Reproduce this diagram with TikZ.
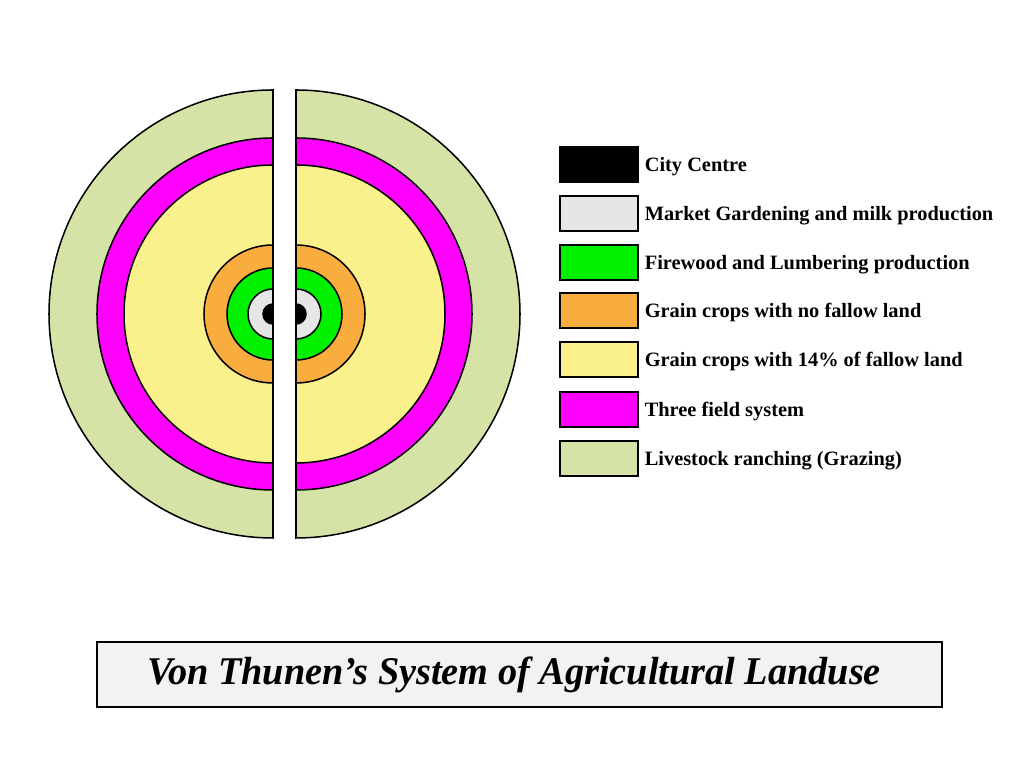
\documentclass[tikz,border=0pt]{standalone}
\usepackage{fontspec}
\setmainfont{Liberation Serif}
\usetikzlibrary{positioning}
\definecolor{ranch}{RGB}{214,227,166}
\definecolor{threefield}{RGB}{255,0,255}
\definecolor{fallow}{RGB}{250,240,140}
\definecolor{nofallow}{RGB}{248,173,62}
\definecolor{firewood}{RGB}{0,240,0}
\definecolor{market}{RGB}{230,230,230}
\definecolor{titlefill}{RGB}{242,242,242}

\begin{document}
\begin{tikzpicture}[x=0.03cm,y=0.03cm]
\tikzset{zone/.style={draw=black,line width=1.3pt},
  key/.style={draw=black,line width=1.2pt,minimum width=2.34cm,minimum height=1.05cm,inner sep=0pt},
  keytext/.style={right=5pt of #1,yshift=-1.8pt,inner sep=0pt,font=\bfseries\fontsize{17.4}{20}\selectfont}}
\useasboundingbox (0,0) rectangle (1024,768);
% left half
\draw[zone,fill=ranch] (273,230) arc[start angle=-90,end angle=-270,radius=224] -- cycle;
\draw[zone,fill=threefield] (273,278) arc[start angle=-90,end angle=-270,radius=176] -- cycle;
\draw[zone,fill=fallow] (273,305) arc[start angle=-90,end angle=-270,radius=149] -- cycle;
\draw[zone,fill=nofallow] (273,385) arc[start angle=-90,end angle=-270,radius=69] -- cycle;
\draw[zone,fill=firewood] (273,408) arc[start angle=-90,end angle=-270,radius=46] -- cycle;
\draw[zone,fill=market] (273,429) arc[start angle=-90,end angle=-270,radius=25] -- cycle;
\draw[zone,fill=black] (273,444) arc[start angle=-90,end angle=-270,radius=10] -- cycle;
% right half
\draw[zone,fill=ranch] (296,230) arc[start angle=-90,end angle=90,radius=224] -- cycle;
\draw[zone,fill=threefield] (296,278) arc[start angle=-90,end angle=90,radius=176] -- cycle;
\draw[zone,fill=fallow] (296,305) arc[start angle=-90,end angle=90,radius=149] -- cycle;
\draw[zone,fill=nofallow] (296,385) arc[start angle=-90,end angle=90,radius=69] -- cycle;
\draw[zone,fill=firewood] (296,408) arc[start angle=-90,end angle=90,radius=46] -- cycle;
\draw[zone,fill=market] (296,429) arc[start angle=-90,end angle=90,radius=25] -- cycle;
\draw[zone,fill=black] (296,444) arc[start angle=-90,end angle=90,radius=10] -- cycle;
% legend
\node[key,fill=black] (k1) at (599,603.5) {};
\node[key,fill=market] (k2) at (599,554.5) {};
\node[key,fill=firewood] (k3) at (599,505.5) {};
\node[key,fill=nofallow] (k4) at (599,457.5) {};
\node[key,fill=fallow] (k5) at (599,408.5) {};
\node[key,fill=threefield] (k6) at (599,358.5) {};
\node[key,fill=ranch] (k7) at (599,309.5) {};
\node[keytext=k1] (t1) {City Centre};
\node[keytext=k2] (t2) {Market Gardening and milk production};
\node[keytext=k3] (t3) {Firewood and Lumbering production};
\node[keytext=k4] (t4) {Grain crops with no fallow land};
\node[keytext=k5] (t5) {Grain crops with 14\% of fallow land};
\node[keytext=k6] (t6) {Three field system};
\node[keytext=k7] (t7) {Livestock ranching (Grazing)};
% title
\node[draw=black,line width=2.5pt,fill=titlefill,minimum width=25.35cm,minimum height=1.95cm] (title) at (519.5,93.5) {};
\node[xscale=0.975,font=\bfseries\itshape\fontsize{33.5}{36}\selectfont] (titletext) at (514,93.5)
  {Von Thunen’s System of Agricultural Landuse};
\end{tikzpicture}
\end{document}
